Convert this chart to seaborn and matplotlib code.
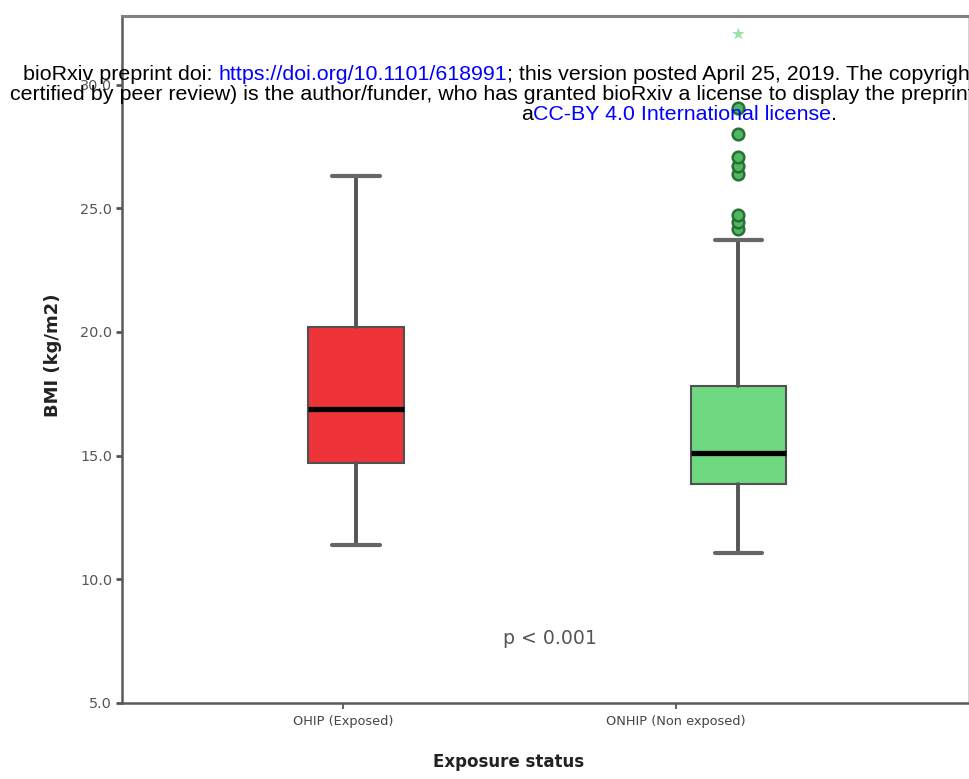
import matplotlib
matplotlib.use("Agg")
import numpy as np
import matplotlib.pyplot as plt
from matplotlib.transforms import IdentityTransform
import seaborn as sns

# ── Data ────────────────────────────────────────────────────
groups       = ["OHIP (Exposed)", "ONHIP (Non exposed)"]
box_colors   = ["#EE3339", "#6FD982"]
whisker_low  = [11.4, 11.05]
q1           = [14.7, 13.84]
median       = [16.9, 15.12]
q3           = [20.2, 17.81]
whisker_high = [26.3, 23.71]
# outliers of the ONHIP group (circles) and one extreme value (star)
outliers_onhip = [24.15, 24.45, 24.72, 26.38, 26.72, 27.06, 28.0, 29.04]
extremes_onhip = [32.04]
yticks = [5.0, 10.0, 15.0, 20.0, 25.0, 30.0]
p_text = "p < 0.001"

header_1 = [("bioRxiv preprint doi:", "black"),
            ("https://doi.org/10.1101/618991", "blue"),
            ("; this version posted April 25, 2019. The copyright", "black")]
header_2 = [("certified by peer review) is the author/funder, who has granted bioRxiv a license to display the preprint", "black")]
header_3 = [("a", "black"), ("CC-BY 4.0 International license", "blue"), (".", "black")]

sns.set_style("white")
W, H = 970, 779
fig = plt.figure(figsize=(W / 100, H / 100), dpi=100)
fig.patch.set_facecolor("white")

ax = fig.add_axes([122 / W, 76 / H, 847 / W, 687.5 / H])

stats = []
for i, g in enumerate(groups):
    stats.append(dict(label=g, whislo=whisker_low[i], q1=q1[i], med=median[i],
                      q3=q3[i], whishi=whisker_high[i], fliers=[]))

bp = ax.bxp(stats, positions=[0, 1], widths=0.25, capwidths=0.125,
            patch_artist=True, showfliers=False,
            boxprops=dict(edgecolor="#505050", linewidth=1.5),
            medianprops=dict(color="black", linewidth=3.8, solid_capstyle="butt"),
            whiskerprops=dict(color="#555555", linewidth=2.8),
            capprops=dict(color="#666666", linewidth=3))
for patch, c in zip(bp["boxes"], box_colors):
    patch.set_facecolor(c)

sns.scatterplot(x=[1] * len(outliers_onhip), y=outliers_onhip, ax=ax,
                marker="o", s=70, color="#4DB860", edgecolor="#2A6E35",
                linewidth=1.8, zorder=4)
sns.scatterplot(x=[1] * len(extremes_onhip), y=extremes_onhip, ax=ax,
                marker="*", s=90, color="#9BE0A6", edgecolor="none", zorder=4)

ax.set_xlim(-0.612, 1.603)
ax.set_ylim(5.0, 32.79)

ax.set_yticks(yticks, [f"{v:.1f}" for v in yticks])
ax.set_xticks([-0.034, 0.837], groups)
ax.tick_params(axis="y", left=True, length=4, width=2, color="#555555",
               labelsize=10.4, labelcolor="#555555", pad=3)
ax.tick_params(axis="x", bottom=True, length=4, width=1.5, color="#666666",
               labelsize=9.3, labelcolor="#444444", pad=5)
for lab in ax.get_xticklabels() + ax.get_yticklabels():
    lab.set_family("DejaVu Sans")

for side in ["left", "bottom"]:
    ax.spines[side].set_color("#5a5a5a")
    ax.spines[side].set_linewidth(1.8)
ax.spines["top"].set_color("#808080")
ax.spines["top"].set_linewidth(2.2)
ax.spines["right"].set_color("#cccccc")
ax.spines["right"].set_linewidth(1.2)

ax.set_xlabel("Exposure status", fontsize=12, fontweight="bold",
              family="DejaVu Sans", color="#222222")
ax.xaxis.set_label_coords((508.5 - 122) / 847, -(762 - 703) / 687.5)
ax.xaxis.label.set_va("center")
ax.set_ylabel("BMI (kg/m2)", fontsize=13, fontweight="bold",
              family="DejaVu Sans", color="#222222")
ax.yaxis.set_label_coords((53 - 122) / 847, (703 - 355) / 687.5)
ax.yaxis.label.set_va("center")

ax.text((550 - 122) / 847, (703 - 638) / 687.5, p_text, transform=ax.transAxes,
        ha="center", va="center", fontsize=13.6, color="#555555",
        family="DejaVu Sans")

# ── bioRxiv header overlay ─────────────────────────────────
HS = 15.4
space_w = 0.278 * HS * 100 / 72
renderer = fig.canvas.get_renderer()


def put_line(x, y_top, parts, gaps):
    for (s, c), gap in zip(parts, gaps):
        t = fig.text(x, H - y_top, s, color=c, fontsize=HS,
                     family="Liberation Sans", ha="left", va="baseline",
                     transform=IdentityTransform(), zorder=10)
        x += t.get_window_extent(renderer).width + gap * space_w


put_line(22.7, 79.5, header_1, [1, 0, 0])
put_line(10, 99.5, header_2, [0])
put_line(521, 119.5, header_3, [0, 0, 0])

plt.savefig("out.png", dpi=100, facecolor="white")
